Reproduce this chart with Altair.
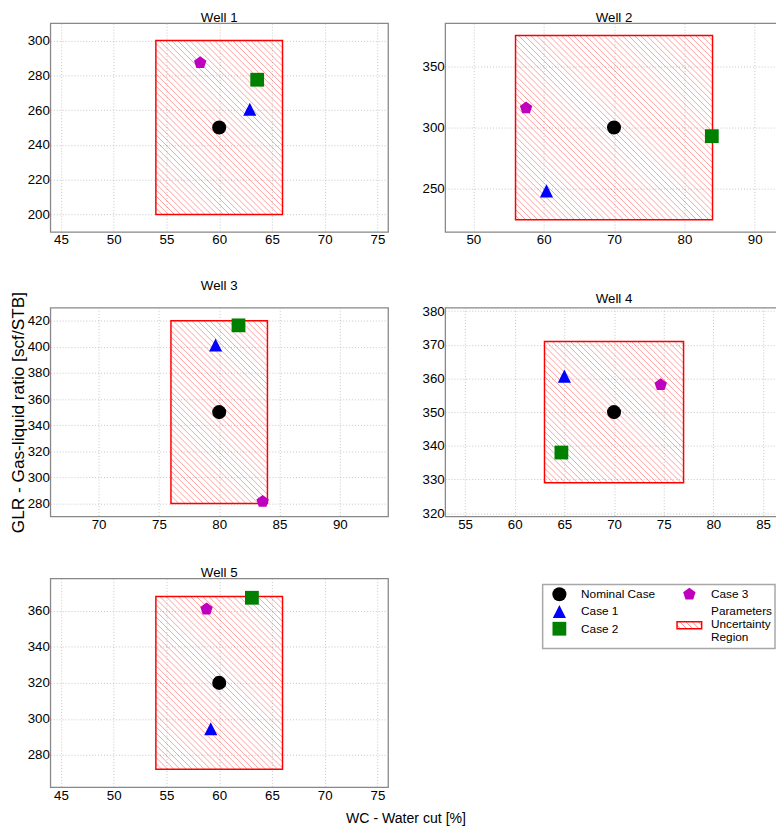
import math
import pandas as pd
import altair as alt

FONT = "Liberation Sans"

# ---------------- data ----------------
cases = ["Nominal Case", "Case 1", "Case 2", "Case 3"]
case_colors = ["#000000", "#0000ff", "#008000", "#bf00bf"]

wells = ["Well 1", "Well 2", "Well 3", "Well 4", "Well 5"]
wc_nominal = [60, 70, 80, 70, 60]
glr_nominal = [250, 300, 350, 350, 320]
wc_low = [54, 56, 76, 63, 54]
wc_high = [66, 84, 84, 77, 66]
glr_low = [200, 225, 280, 329, 272]
glr_high = [300, 375, 420, 371, 368]
wc_case1 = [62.9, 60.4, 79.7, 65.0, 59.2]
glr_case1 = [260.5, 248.4, 401.4, 360.7, 294.5]
wc_case2 = [63.6, 83.9, 81.6, 64.7, 63.1]
glr_case2 = [277.5, 293.0, 416.5, 338.0, 367.3]
wc_case3 = [58.2, 57.5, 83.6, 74.7, 58.8]
glr_case3 = [287.2, 316.0, 281.5, 358.1, 361.0]

x_ticks = [
    [45, 50, 55, 60, 65, 70, 75],
    [50, 60, 70, 80, 90],
    [70, 75, 80, 85, 90],
    [55, 60, 65, 70, 75, 80, 85],
    [45, 50, 55, 60, 65, 70, 75],
]
y_ticks = [
    [200, 220, 240, 260, 280, 300],
    [250, 300, 350],
    [280, 300, 320, 340, 360, 380, 400, 420],
    [320, 330, 340, 350, 360, 370, 380],
    [280, 300, 320, 340, 360],
]
region_label = "Parameters\nUncertainty\nRegion"
x_title = "WC - Water cut [%]"
y_title = "GLR - Gas-liquid ratio [scf/STB]"

# ---------------- styling ----------------
W, H = 343, 212
PAD = 10  # axis margin around the uncertainty box (data units)
HATCH_STEP = 6.2
pent = "M0,-1L0.951,-0.309L0.588,0.809L-0.588,0.809L-0.951,-0.309Z"
tri = "M0,-1L1,1L-1,1Z"
case_shapes = ["circle", tri, "square", pent]
case_sizes = [204, 177, 196, 175]


def hatch_segments(xd, yd, rx, ry):
    sx = W / (xd[1] - xd[0])
    sy = H / (yd[1] - yd[0])
    X0, X1 = (rx[0] - xd[0]) * sx, (rx[1] - xd[0]) * sx
    Yt, Yb = (yd[1] - ry[1]) * sy, (yd[1] - ry[0]) * sy
    rows = []
    c = math.ceil((Yt - X1) / HATCH_STEP) * HATCH_STEP
    while c < Yb - X0:
        lo = max(X0, Yt - c)
        hi = min(X1, Yb - c)
        if hi - lo > 0.5:
            rows.append(dict(wc=xd[0] + lo / sx, glr=yd[1] - (lo + c) / sy,
                             wc2=xd[0] + hi / sx, glr2=yd[1] - (hi + c) / sy))
        c += HATCH_STEP
    return pd.DataFrame(rows)


def swatch_hatch_path():
    hw, hh, st = 1.0, 0.28, 0.5
    parts = []
    c = -2 * hw
    while c < 2 * hh + 2 * hw:
        lo = max(-hw, -hh - c)
        hi = min(hw, hh - c)
        if hi > lo:
            parts.append(f"M{lo:.3f},{lo + c:.3f}L{hi:.3f},{hi + c:.3f}")
        c += st
    return "".join(parts)


def well_panel(i):
    xd = [wc_low[i] - PAD, wc_high[i] + PAD]
    yd = [glr_low[i] - PAD, glr_high[i] + PAD]
    xs = alt.Scale(domain=xd, nice=False, zero=False)
    ys = alt.Scale(domain=yd, nice=False, zero=False)
    xa = alt.Axis(values=x_ticks[i], title=None)
    if i == 2:
        ya = alt.Axis(values=y_ticks[i], title=y_title)
    else:
        ya = alt.Axis(values=y_ticks[i], title=None)

    hdf = hatch_segments(xd, yd, [wc_low[i], wc_high[i]], [glr_low[i], glr_high[i]])
    hatch = alt.Chart(hdf).mark_rule(color="#ff0000", opacity=0.38, strokeWidth=1).encode(
        x=alt.X("wc:Q", scale=xs, axis=xa), x2="wc2:Q",
        y=alt.Y("glr:Q", scale=ys, axis=ya), y2="glr2:Q",
    )
    rdf = pd.DataFrame({"wc": [wc_low[i]], "wc2": [wc_high[i]],
                        "glr": [glr_low[i]], "glr2": [glr_high[i]]})
    rect = alt.Chart(rdf).mark_rect(fill="transparent", stroke="#ff0000", strokeWidth=1.5).encode(
        x=alt.X("wc:Q", scale=xs, axis=xa), x2="wc2:Q",
        y=alt.Y("glr:Q", scale=ys, axis=ya), y2="glr2:Q",
    )
    pdf = pd.DataFrame({
        "case": cases,
        "wc": [wc_nominal[i], wc_case1[i], wc_case2[i], wc_case3[i]],
        "glr": [glr_nominal[i], glr_case1[i], glr_case2[i], glr_case3[i]],
    })
    layers = [hatch, rect]
    for k, name in enumerate(cases):
        layers.append(
            alt.Chart(pdf).transform_filter(alt.datum.case == name).mark_point(
                shape=case_shapes[k], size=case_sizes[k], filled=True,
                fill=case_colors[k], opacity=1, strokeWidth=0,
            ).encode(
                x=alt.X("wc:Q", scale=xs, axis=xa),
                y=alt.Y("glr:Q", scale=ys, axis=ya),
            )
        )
    return alt.layer(*layers).properties(
        width=W, height=H,
        title=alt.Title(wells[i], fontSize=13.5, fontWeight="normal", font=FONT, color="black", offset=-1),
    )


def legend_panel():
    ldf = pd.DataFrame({"label": cases,
                        "col": [k // 3 for k in range(len(cases))],
                        "row": [k % 3 for k in range(len(cases))]})
    lx = alt.Scale(domain=[0, 1], range=[116, 248])
    ly = alt.Scale(domain=[0, 2], range=[16, 51])
    box = alt.Chart(pd.DataFrame({"a": [0]})).mark_rect(
        fill="white", stroke="#a8a8a8", strokeWidth=1.5
    ).encode(x=alt.value(99), x2=alt.value(335), y=alt.value(6), y2=alt.value(71))
    layers = [box]
    for k, name in enumerate(cases):
        layers.append(
            alt.Chart(ldf).transform_filter(alt.datum.label == name).mark_point(
                shape=case_shapes[k], size=case_sizes[k], filled=True,
                fill=case_colors[k], opacity=1, strokeWidth=0,
            ).encode(x=alt.X("col:Q", scale=lx, axis=None), y=alt.Y("row:Q", scale=ly, axis=None))
        )
    layers.append(
        alt.Chart(ldf).mark_text(align="left", baseline="middle", dx=22, fontSize=12, font=FONT, color="black")
        .encode(x=alt.X("col:Q", scale=lx, axis=None), y=alt.Y("row:Q", scale=ly, axis=None), text="label:N")
    )
    sdf = pd.DataFrame({"col": [1], "row": [1.8]})
    layers.append(
        alt.Chart(sdf).mark_point(shape=swatch_hatch_path(), size=625, filled=False,
                                  stroke="#ff0000", strokeOpacity=0.45, strokeWidth=1, opacity=1)
        .encode(x=alt.X("col:Q", scale=lx, axis=None), y=alt.Y("row:Q", scale=ly, axis=None))
    )
    layers.append(
        alt.Chart(sdf).mark_point(shape="M-1,-0.28H1V0.28H-1Z", size=625, filled=False,
                                  stroke="#ff0000", strokeWidth=1.5, opacity=1)
        .encode(x=alt.X("col:Q", scale=lx, axis=None), y=alt.Y("row:Q", scale=ly, axis=None))
    )
    tdf = pd.DataFrame({"label": [region_label], "col": [1], "row": [1]})
    layers.append(
        alt.Chart(tdf).mark_text(align="left", baseline="middle", dx=22, fontSize=12, font=FONT,
                                 color="black", lineBreak="\n", lineHeight=13)
        .encode(x=alt.X("col:Q", scale=lx, axis=None), y=alt.Y("row:Q", scale=ly, axis=None), text="label:N")
    )
    return alt.layer(*layers).properties(width=W, height=H, view=alt.ViewBackground(strokeOpacity=0))


panels = [well_panel(i) for i in range(len(wells))]
chart = alt.concat(
    *panels, legend_panel(), columns=2, spacing={"row": 31, "column": 32}
).properties(
    title=alt.Title(x_title, orient="bottom", anchor="middle", fontSize=14.3, fontWeight="normal",
                    font=FONT, color="black", offset=10, dx=10),
    padding={"top": -5, "left": 0, "right": -8, "bottom": -2},
).configure(font=FONT).configure_view(
    stroke="#888888", strokeWidth=1.3
).configure_axis(
    labelFont=FONT, labelFontSize=13.5, labelColor="black", labelPadding=1, labelFlush=False,
    domain=False, ticks=False,
    grid=True, gridColor="#b8b8b8", gridDash=[1, 2], gridWidth=0.8,
    titleFont=FONT, titleFontSize=17.5, titleFontWeight="normal", titleColor="black", titlePadding=0,
)

chart.save("out.html", embed_options={"renderer": "svg", "actions": False})
